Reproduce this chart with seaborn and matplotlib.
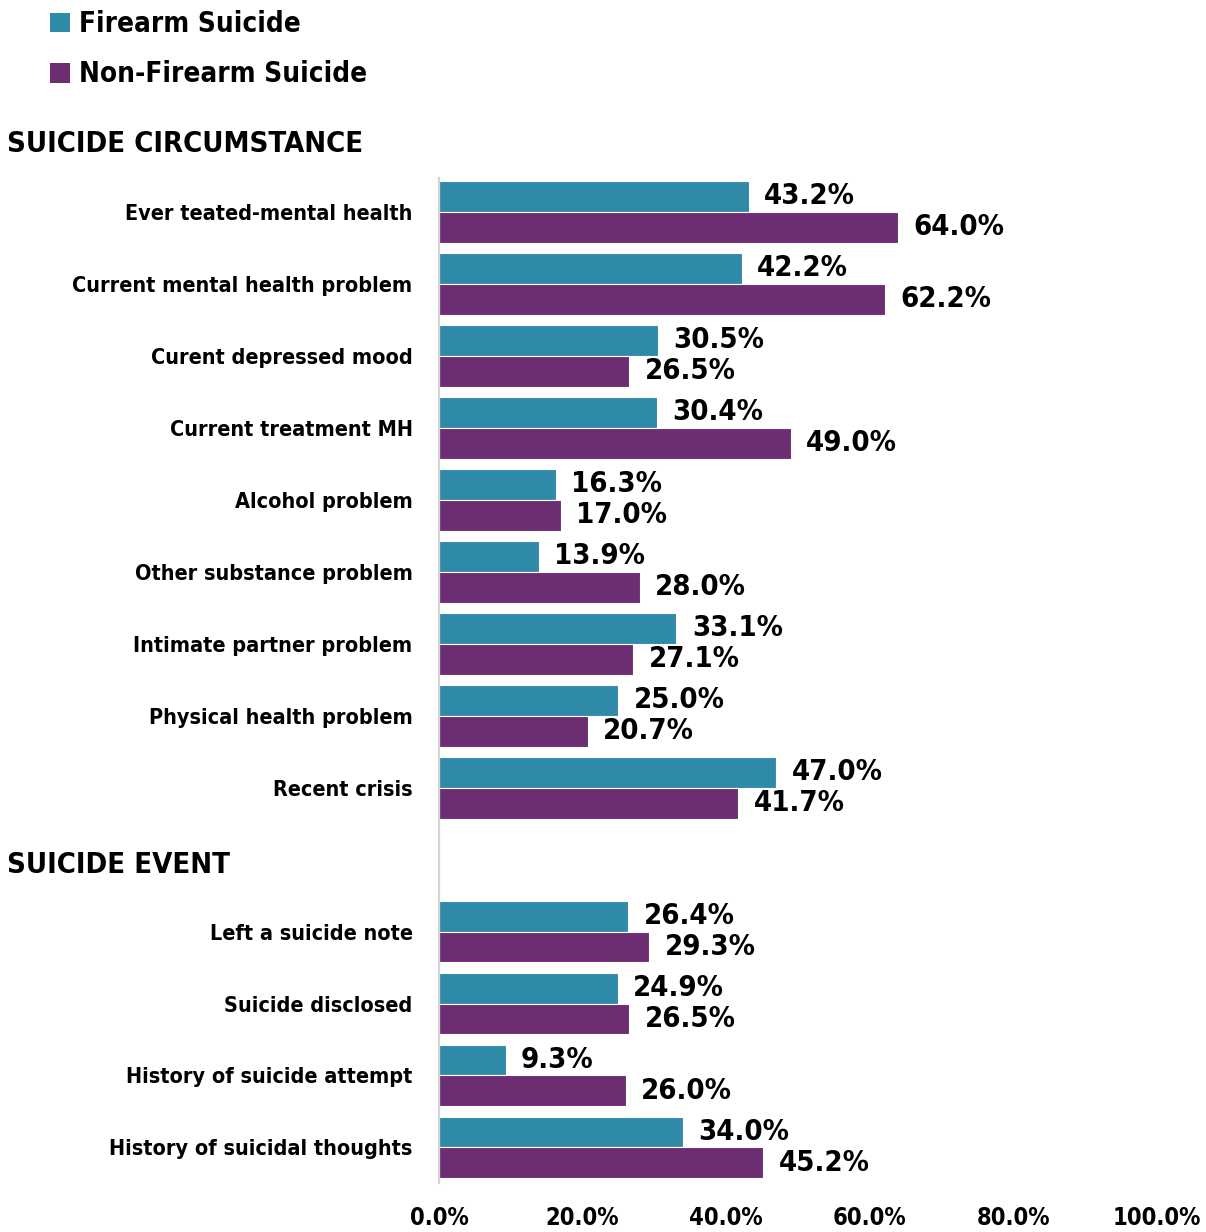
import matplotlib
matplotlib.use("Agg")
import matplotlib.pyplot as plt
from matplotlib.patches import Patch
import seaborn as sns
import pandas as pd

# Circumstance and event categories, top to bottom
circumstances = [
    "Ever teated-mental health",
    "Current mental health problem",
    "Curent depressed mood",
    "Current treatment MH",
    "Alcohol problem",
    "Other substance problem",
    "Intimate partner problem",
    "Physical health problem",
    "Recent crisis",
]
events = [
    "Left a suicide note",
    "Suicide disclosed",
    "History of suicide attempt",
    "History of suicidal thoughts",
]

firearm_circ = [43.2, 42.2, 30.5, 30.4, 16.3, 13.9, 33.1, 25.0, 47.0]
nonfirearm_circ = [64.0, 62.2, 26.5, 49.0, 17.0, 28.0, 27.1, 20.7, 41.7]
firearm_event = [26.4, 24.9, 9.3, 34.0]
nonfirearm_event = [29.3, 26.5, 26.0, 45.2]

series_names = ["Firearm Suicide", "Non-Firearm Suicide"]
colors = ["#2F8AA8", "#6C2D73"]
section_titles = ["SUICIDE CIRCUMSTANCE", "SUICIDE EVENT"]
x_ticks = [0, 20, 40, 60, 80, 100]

categories = circumstances + events
df = pd.DataFrame({
    "category": categories * 2,
    "value": firearm_circ + firearm_event + nonfirearm_circ + nonfirearm_event,
    "group": [series_names[0]] * len(categories) + [series_names[1]] * len(categories),
})

# a blank slot separates the two sections
spacer = " "
order = circumstances + [spacer] + events

sns.set_theme(style="white")
plt.rcParams["font.family"] = ["DejaVu Sans"]
plt.rcParams["font.stretch"] = "condensed"
plt.rcParams["font.weight"] = "bold"
plt.rcParams["text.color"] = "black"
plt.rcParams["xtick.color"] = "black"
plt.rcParams["ytick.color"] = "black"

fig = plt.figure(figsize=(12.06, 12.32), dpi=100)
ax = fig.add_axes([0.364, 0.040, 0.595, 0.8155])

sns.barplot(
    data=df, y="category", x="value", hue="group", order=order,
    hue_order=series_names, palette=colors, width=0.86,
    edgecolor="white", linewidth=0.8, saturation=1, legend=False, ax=ax,
)

for cont in ax.containers:
    ax.bar_label(cont, fmt="%.1f%%", padding=11, fontsize=21,
                 fontweight="bold", fontstretch="condensed", color="black")

ax.set_xlim(0, 100)
ax.set_ylim(13.49, -0.47)
ax.set_xticks(x_ticks)
ax.set_xticklabels([f"{t:.1f}%" for t in x_ticks], fontsize=17,
                   fontweight="bold", fontstretch="condensed")
ax.tick_params(axis="x", length=0, pad=17)
ax.tick_params(axis="y", length=0, pad=19, labelsize=15.5)
for lab in ax.get_yticklabels():
    lab.set_fontweight("bold")
    lab.set_fontstretch("condensed")
ax.set_xlabel("")
ax.set_ylabel("")
for side in ["top", "right", "bottom"]:
    ax.spines[side].set_visible(False)
ax.spines["left"].set_color("#d4d4d4")
ax.spines["left"].set_linewidth(1.6)

# section headers aligned to the left edge of the figure
header_y = [-0.945, 9.08]
for title, yy in zip(section_titles, header_y):
    ax.annotate(title, xy=(0.006, yy), xycoords=("figure fraction", "data"),
                ha="left", va="center", fontsize=21, fontweight="bold",
                fontstretch="condensed", annotation_clip=False)

handles = [Patch(facecolor=c, edgecolor="none") for c in colors]
fig.legend(handles, series_names, loc="upper left", bbox_to_anchor=(0.021, 1.012),
           frameon=False, handlelength=0.72, handleheight=0.72,
           handletextpad=0.3, labelspacing=0.8,
           prop={"weight": "bold", "size": 20, "stretch": "condensed"})

fig.savefig("out.png", dpi=100)
